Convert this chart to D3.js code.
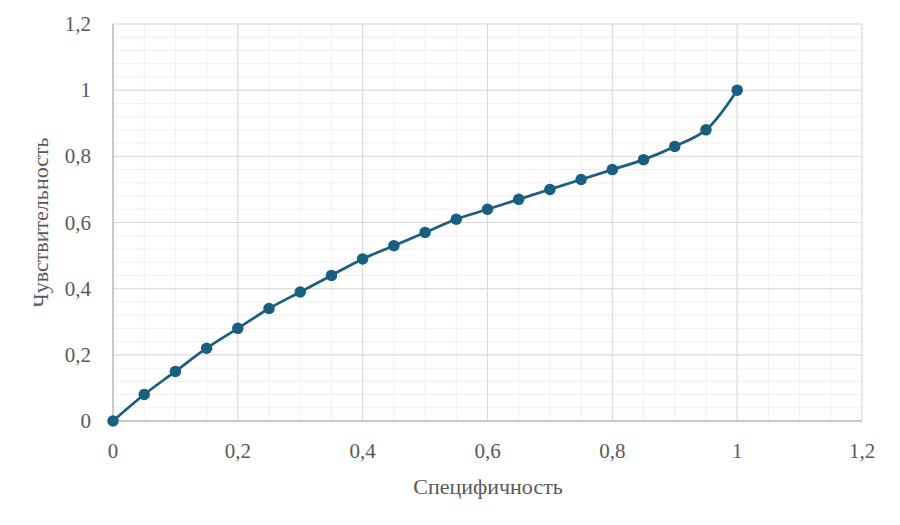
<!DOCTYPE html>
<html>
<head>
<meta charset="utf-8">
<script src="https://cdn.jsdelivr.net/npm/d3@7"></script>
</head>
<body style="margin:0">
<svg id="chart" width="900" height="525" font-family="Liberation Serif">
  <g id="grid"></g>
  <text id="xtitle" x="488" y="494" text-anchor="middle" font-family="Liberation Serif" font-size="22" fill="#595959">Специфичность</text>
  <text id="ytitle" transform="translate(48,222.5) rotate(-90)" text-anchor="middle" font-family="Liberation Serif" font-size="22" fill="#595959">Чувствительность</text>
</svg>
<script>
  // specificity (x) vs sensitivity (y)
  const specificity = [0, 0.05, 0.1, 0.15, 0.2, 0.25, 0.3, 0.35, 0.4, 0.45, 0.5,
    0.55, 0.6, 0.65, 0.7, 0.75, 0.8, 0.85, 0.9, 0.95, 1];
  const sensitivity = [0, 0.08, 0.15, 0.22, 0.28, 0.34, 0.39, 0.44, 0.49, 0.53, 0.57,
    0.61, 0.64, 0.67, 0.70, 0.73, 0.76, 0.79, 0.83, 0.88, 1];
  const xTicks = [0, 0.2, 0.4, 0.6, 0.8, 1, 1.2];
  const yTicks = [0, 0.2, 0.4, 0.6, 0.8, 1, 1.2];

  const width = 900, height = 525;
  const margin = { left: 113, right: 38, top: 24, bottom: 104 };

  const svg = d3.select('#chart');

  const x = d3.scaleLinear().domain([0, 1.2]).range([margin.left, width - margin.right]);
  const y = d3.scaleLinear().domain([0, 1.2]).range([height - margin.bottom, margin.top]);
  const fmt = d => String(+d.toFixed(2)).replace('.', ',');

  // minor grid
  const g = d3.select('#grid');
  g.selectAll('.mx').data(d3.range(0, 1.2001, 0.05)).enter().append('line')
    .attr('x1', d => x(d)).attr('x2', d => x(d))
    .attr('y1', y(0)).attr('y2', y(1.2))
    .attr('stroke', '#f0f0f0').attr('stroke-width', 1);
  g.selectAll('.my').data(d3.range(0, 1.2001, 0.04)).enter().append('line')
    .attr('x1', x(0)).attr('x2', x(1.2))
    .attr('y1', d => y(d)).attr('y2', d => y(d))
    .attr('stroke', '#f0f0f0').attr('stroke-width', 1);

  // major grid
  g.selectAll('.Mx').data(xTicks).enter().append('line')
    .attr('x1', d => x(d)).attr('x2', d => x(d))
    .attr('y1', y(0)).attr('y2', y(1.2))
    .attr('stroke', '#d9d9d9').attr('stroke-width', 1);
  g.selectAll('.My').data(yTicks).enter().append('line')
    .attr('x1', x(0)).attr('x2', x(1.2))
    .attr('y1', d => y(d)).attr('y2', d => y(d))
    .attr('stroke', '#d9d9d9').attr('stroke-width', 1);

  // axis lines
  g.append('line').attr('x1', x(0)).attr('x2', x(0)).attr('y1', y(0)).attr('y2', y(1.2))
    .attr('stroke', '#bfbfbf').attr('stroke-width', 1.5);
  g.append('line').attr('x1', x(0)).attr('x2', x(1.2)).attr('y1', y(0)).attr('y2', y(0))
    .attr('stroke', '#bfbfbf').attr('stroke-width', 1.5);

  // tick labels
  svg.selectAll('.xt').data(xTicks).enter().append('text')
    .attr('x', d => x(d)).attr('y', y(0) + 37)
    .attr('text-anchor', 'middle').attr('font-family', 'Liberation Serif').attr('font-size', 21)
    .attr('fill', '#595959')
    .text(fmt);
  svg.selectAll('.yt').data(yTicks).enter().append('text')
    .attr('x', x(0) - 22).attr('y', d => y(d) + 7)
    .attr('text-anchor', 'end').attr('font-family', 'Liberation Serif').attr('font-size', 21)
    .attr('fill', '#595959')
    .text(fmt);

  // series
  const pts = specificity.map((d, i) => [d, sensitivity[i]]);
  const color = '#1a5f80';
  svg.append('path').datum(pts)
    .attr('d', d3.line().x(d => x(d[0])).y(d => y(d[1])).curve(d3.curveCatmullRom.alpha(0.5)))
    .attr('fill', 'none').attr('stroke', color).attr('stroke-width', 2.75);
  svg.selectAll('.pt').data(pts).enter().append('circle')
    .attr('cx', d => x(d[0])).attr('cy', d => y(d[1])).attr('r', 5.75)
    .attr('fill', color);
</script>
</body>
</html>
